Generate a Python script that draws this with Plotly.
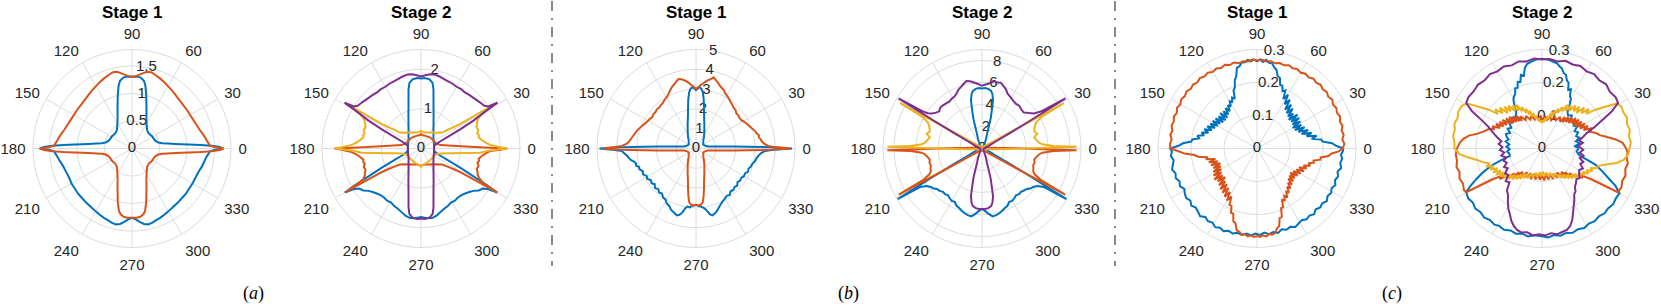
import plotly.graph_objects as go

W, H = 1661, 307
BLUE, ORANGE, YELLOW, PURPLE = "#0072BD", "#D95319", "#EDB120", "#7E2F8E"
GRID = "#dcdcdc"
TXT = "#262626"
FONT = "Liberation Sans, Arial, Helvetica, sans-serif"

ANG_TICKS = [0, 30, 60, 90, 120, 150, 180, 210, 240, 270, 300, 330]
TITLES = ["Stage 1", "Stage 2", "Stage 1", "Stage 2", "Stage 1", "Stage 2"]
PANEL_LABELS = ["(<i>a</i>)", "(<i>b</i>)", "(<i>c</i>)"]

# radial ticks per panel
A1_RTICKS = [0, 0.5, 1, 1.5]; A1_RLAB = ["0", "0.5", "1", "1.5"]; A1_RMAX = 1.8
A2_RTICKS = [0, 1, 2]; A2_RLAB = ["0", "1", "2"]; A2_RMAX = 2.5
B1_RTICKS = [0, 1, 2, 3, 4, 5]; B1_RLAB = ["0", "1", "2", "3", "4", "5"]; B1_RMAX = 5
B2_RTICKS = [0, 2, 4, 6, 8]; B2_RLAB = ["0", "2", "4", "6", "8"]; B2_RMAX = 9
C1_RTICKS = [0, 0.1, 0.2, 0.3]; C1_RLAB = ["0", "0.1", "0.2", "0.3"]; C1_RMAX = 0.3
C2_RTICKS = [0, 0.1, 0.2, 0.3]; C2_RLAB = ["0", "0.1", "0.2", "0.3"]; C2_RMAX = 0.3

# ---- (a) Stage 1 : (theta deg, r) ----
A1_BLUE = [(0,1.65),(1,1.6),(2,1.45),(3,1.25),(4,1.05),(5,0.9),(6,0.8),(7,0.72),(8,0.66),(10,0.56),(13,0.49),(18,0.45),(25,0.43),(30,0.43),(35,0.42),(42,0.41),(50,0.43),(55,0.47),(60,0.53),(65,0.62),(70,0.77),(75,1.0),(78,1.17),(80,1.25),(83,1.3),(86,1.31),(90,1.31),(94,1.31),(97,1.3),(100,1.25),(102,1.17),(105,1.0),(110,0.77),(115,0.62),(120,0.53),(125,0.47),(130,0.43),(138,0.41),(145,0.42),(150,0.43),(155,0.43),(162,0.45),(167,0.49),(170,0.56),(172,0.66),(173,0.72),(174,0.8),(175,0.9),(176,1.05),(177,1.25),(178,1.45),(179,1.6),(180,1.68),
           (181,1.5),(182,1.42),(185,1.38),(188,1.35),(191,1.32),(195,1.29),(200,1.27),(205,1.26),(210,1.27),(215,1.27),(220,1.28),(225,1.28),(230,1.29),(235,1.3),(240,1.32),(244,1.34),(248,1.36),(252,1.38),(255,1.40),(258,1.41),(261,1.39),(264,1.34),(267,1.29),(270,1.26),(273,1.29),(276,1.34),(279,1.39),(282,1.41),(285,1.40),(288,1.38),(292,1.36),(296,1.34),(300,1.32),(305,1.3),(310,1.29),(315,1.28),(320,1.28),(325,1.27),(330,1.27),(335,1.27),(340,1.28),(345,1.31),(349,1.33),(352,1.35),(355,1.38),(358,1.42),(359,1.5),(360,1.65)]
A1_ORANGE = [(0,1.67),(1,1.5),(2,1.42),(5,1.38),(8,1.35),(11,1.32),(15,1.28),(20,1.25),(25,1.23),(30,1.22),(35,1.22),(40,1.22),(45,1.23),(50,1.25),(55,1.28),(60,1.31),(64,1.34),(68,1.37),(72,1.40),(76,1.43),(79,1.42),(82,1.38),(85,1.34),(88,1.31),(90,1.30),(92,1.31),(95,1.34),(98,1.38),(101,1.42),(104,1.43),(108,1.40),(112,1.37),(116,1.34),(120,1.31),(125,1.28),(130,1.25),(135,1.23),(140,1.22),(145,1.22),(150,1.22),(155,1.23),(160,1.25),(165,1.28),(169,1.32),(172,1.35),(175,1.38),(178,1.42),(179,1.5),(180,1.67),
             (181,1.6),(182,1.45),(183,1.25),(184,1.05),(185,0.9),(186,0.8),(187,0.72),(188,0.66),(190,0.56),(193,0.49),(198,0.45),(205,0.43),(210,0.43),(215,0.42),(222,0.41),(230,0.43),(235,0.47),(240,0.53),(245,0.62),(250,0.77),(255,1.0),(258,1.15),(260,1.21),(263,1.25),(266,1.26),(270,1.26),(274,1.26),(277,1.25),(280,1.21),(282,1.15),(285,1.0),(290,0.77),(295,0.62),(300,0.53),(305,0.47),(310,0.43),(318,0.41),(325,0.42),(330,0.43),(335,0.43),(342,0.45),(347,0.49),(350,0.56),(352,0.66),(353,0.72),(354,0.8),(355,0.9),(356,1.05),(357,1.25),(358,1.45),(359,1.6),(360,1.67)]

# ---- (a) Stage 2 ----
A2_BLUE = [(0,0.33),(15,0.34),(30,0.37),(40,0.41),(50,0.49),(60,0.63),(65,0.75),(70,0.93),(73,1.08),(75,1.22),(77,1.4),(78,1.52),(80,1.68),(83,1.76),(87,1.78),(90,1.77),(93,1.78),(97,1.76),(100,1.68),(102,1.52),(103,1.4),(105,1.22),(107,1.08),(110,0.93),(115,0.75),(120,0.63),(130,0.49),(140,0.41),(150,0.37),(165,0.34),(180,0.33),(190,0.34),(195,0.38),(200,0.5),(203,0.7),(206,1.1),(208,1.5),(209,1.9),(210,2.22),(211,2.0),(213,1.86),(216,1.8),(219,1.7),(222,1.64),(225,1.6),(229,1.56),(233,1.55),(237,1.57),(241,1.56),(245,1.6),(249,1.63),(253,1.68),(257,1.74),(261,1.78),(265,1.77),(270,1.73),(275,1.77),(279,1.78),(283,1.74),(287,1.68),(291,1.63),(295,1.6),(299,1.56),(303,1.57),(307,1.55),(311,1.56),(315,1.6),(318,1.64),(321,1.7),(324,1.8),(327,1.86),(329,2.0),(330,2.22),(331,1.9),(332,1.5),(334,1.1),(337,0.7),(340,0.5),(345,0.38),(350,0.34),(360,0.33)]
A2_ORANGE = [(0,2.18),(1,1.6),(2,1.25),(4,0.9),(6,0.7),(10,0.5),(20,0.4),(35,0.37),(50,0.36),(70,0.34),(85,0.34),(90,0.37),(95,0.34),(110,0.34),(130,0.36),(145,0.37),(160,0.4),(170,0.5),(174,0.7),(176,0.9),(178,1.25),(179,1.6),(180,2.18),(181,2.0),(183,1.75),(185,1.65),(188,1.55),(191,1.48),(193,1.5),(195,1.47),(198,1.52),(201,1.5),(204,1.55),(206,1.58),(208,1.65),(209,1.8),(210,2.22),(211,1.2),(212,1.0),(214,0.83),(217,0.67),(225,0.56),(240,0.47),(255,0.42),(265,0.42),(270,0.45),(275,0.42),(285,0.42),(300,0.47),(315,0.56),(323,0.67),(326,0.83),(328,1.0),(329,1.2),(330,2.22),(331,1.8),(333,1.65),(335,1.58),(337,1.55),(340,1.5),(343,1.52),(346,1.47),(348,1.5),(350,1.48),(353,1.55),(356,1.65),(358,1.75),(359,2.0),(360,2.18)]
A2_YELLOW = [(0,2.18),(1,2.0),(3,1.75),(5,1.65),(8,1.55),(11,1.48),(13,1.5),(15,1.47),(18,1.52),(21,1.5),(24,1.55),(26,1.58),(28,1.65),(30,1.8),(31,2.25),(32,1.2),(33,1.0),(35,0.83),(37,0.67),(45,0.56),(60,0.47),(75,0.42),(85,0.42),(90,0.45),(95,0.42),(105,0.42),(120,0.47),(135,0.56),(143,0.67),(145,0.83),(147,1.0),(148,1.2),(149,2.25),(150,1.8),(152,1.65),(154,1.58),(156,1.55),(159,1.5),(162,1.52),(165,1.47),(167,1.5),(169,1.48),(172,1.55),(175,1.65),(177,1.75),(179,2.0),(180,2.18),(181,1.9),(182,1.7),(184,1.5),(186,1.1),(188,0.85),(190,0.7),(195,0.5),(200,0.42),(210,0.38),(225,0.37),(240,0.38),(255,0.4),(265,0.42),(270,0.45),(275,0.42),(285,0.4),(300,0.38),(315,0.37),(330,0.38),(340,0.42),(345,0.5),(350,0.7),(352,0.85),(354,1.1),(356,1.5),(358,1.7),(359,1.9),(360,2.18)]
A2_PURPLE = [(0,0.33),(10,0.34),(15,0.38),(20,0.5),(23,0.7),(26,1.1),(28,1.5),(30,1.9),(31,2.25),(32,2.0),(34,1.93),(37,1.9),(40,1.87),(44,1.84),(48,1.82),(52,1.80),(56,1.81),(60,1.80),(64,1.82),(68,1.83),(72,1.85),(76,1.88),(80,1.9),(83,1.89),(86,1.86),(90,1.82),(94,1.86),(97,1.89),(100,1.9),(104,1.88),(108,1.85),(112,1.83),(116,1.82),(120,1.80),(124,1.81),(128,1.80),(132,1.82),(136,1.84),(140,1.87),(143,1.9),(146,1.93),(148,2.0),(149,2.25),(150,1.9),(152,1.5),(154,1.1),(157,0.7),(160,0.5),(165,0.38),(170,0.34),(180,0.33),(195,0.34),(210,0.37),(220,0.41),(230,0.49),(240,0.63),(245,0.75),(250,0.93),(253,1.08),(255,1.22),(257,1.4),(258,1.52),(260,1.68),(263,1.76),(267,1.78),(270,1.77),(273,1.78),(277,1.76),(280,1.68),(282,1.52),(283,1.4),(285,1.22),(287,1.08),(290,0.93),(295,0.75),(300,0.63),(310,0.49),(320,0.41),(330,0.37),(345,0.34),(360,0.33)]

# ---- (b) Stage 1 ----
B1_BLUE = [(0,4.85),(1,3.8),(2,2.6),(3,1.9),(4,1.45),(6,1.0),(10,0.6),(20,0.45),(30,0.42),(40,0.48),(50,0.58),(55,0.7),(60,0.82),(65,1.0),(68,1.12),(71,1.3),(74,1.5),(77,1.8),(79,2.1),(81,2.5),(83,2.85),(85,3.05),(87,3.1),(89,3.0),(90,2.95),(91,3.0),(93,3.1),(95,3.05),(97,2.85),(99,2.5),(101,2.1),(103,1.8),(106,1.5),(109,1.3),(112,1.12),(115,1.0),(120,0.82),(125,0.7),(130,0.58),(140,0.48),(150,0.42),(160,0.45),(170,0.6),(174,1.0),(176,1.45),(177,1.9),(178,2.6),(179,3.8),(180,4.87),
           (181,4.1),(182,3.75),(184,3.62),(186,3.5),(188,3.42),(190,3.35),(192,3.2),(194,3.12),(196,3.15),(198,3.02),(200,3.05),(203,2.92),(206,2.98),(209,2.85),(212,2.9),(215,2.78),(218,2.85),(221,2.76),(224,2.88),(227,2.8),(230,2.9),(233,2.85),(236,2.98),(239,3.0),(242,3.15),(245,3.2),(248,3.35),(251,3.42),(254,3.52),(256,3.45),(258,3.3),(260,3.05),(262,2.95),(264,3.0),(266,2.9),(268,2.88),(270,2.84),(272,2.9),(274,2.92),(276,2.98),(278,3.05),(280,3.2),(282,3.4),(284,3.48),(286,3.42),(288,3.35),(291,3.2),(294,3.08),(297,2.98),(300,2.92),(303,2.85),(306,2.9),(309,2.78),(312,2.82),(315,2.75),(318,2.8),(321,2.7),(324,2.76),(327,2.72),(330,2.8),(333,2.78),(336,2.88),(339,2.84),(342,2.92),(345,2.95),(348,3.05),(351,3.1),(354,3.2),(356,3.3),(358,3.5),(359,3.9),(360,4.85)]
B1_ORANGE = [(0,4.77),(1,4.0),(2,3.65),(4,3.45),(6,3.35),(8,3.3),(10,3.22),(12,3.25),(14,3.15),(17,3.1),(20,3.0),(23,2.92),(26,2.85),(29,2.78),(32,2.7),(35,2.68),(38,2.72),(41,2.7),(44,2.78),(47,2.8),(50,2.86),(53,2.92),(56,3.0),(59,3.08),(62,3.15),(65,3.28),(68,3.35),(71,3.48),(74,3.6),(76,3.7),(78,3.58),(80,3.5),(82,3.4),(84,3.3),(86,3.2),(88,3.1),(90,3.0),(92,3.12),(94,3.2),(96,3.32),(98,3.42),(100,3.5),(102,3.58),(104,3.62),(106,3.55),(108,3.45),(111,3.35),(114,3.22),(117,3.08),(120,2.98),(123,2.92),(126,2.85),(129,2.82),(132,2.78),(135,2.8),(138,2.75),(141,2.76),(144,2.72),(147,2.76),(150,2.8),(153,2.85),(156,2.92),(159,3.0),(162,3.08),(165,3.15),(168,3.22),(171,3.3),(174,3.4),(176,3.5),(178,3.75),(179,4.1),(180,4.7),
             (181,3.9),(182,2.6),(183,1.9),(184,1.45),(186,1.0),(190,0.6),(200,0.45),(210,0.42),(220,0.48),(230,0.58),(235,0.7),(240,0.82),(245,1.0),(248,1.12),(251,1.3),(254,1.5),(257,1.8),(259,2.1),(261,2.45),(263,2.75),(265,2.85),(267,2.88),(270,2.84),(273,2.88),(275,2.85),(277,2.75),(279,2.45),(281,2.1),(283,1.8),(286,1.5),(289,1.3),(292,1.12),(295,1.0),(300,0.82),(305,0.7),(310,0.58),(320,0.48),(330,0.42),(340,0.45),(350,0.6),(354,1.0),(356,1.45),(357,1.9),(358,2.6),(359,3.8),(360,4.77)]

# ---- (b) Stage 2 ----
B2_BLUE = [(0,0.2),(10,0.18),(30,0.15),(50,0.2),(60,0.4),(65,0.7),(68,1.0),(71,1.4),(73,2.2),(74,2.9),(76,3.8),(77,4.45),(79,5.0),(81,5.3),(84,5.45),(87,5.5),(90,5.45),(93,5.5),(96,5.45),(99,5.3),(101,5.0),(103,4.45),(104,3.8),(106,2.9),(107,2.2),(109,1.4),(112,1.0),(115,0.7),(120,0.4),(130,0.2),(150,0.15),(170,0.18),(180,0.2),(190,0.3),(200,0.52),(204,0.82),(207,1.4),(209,2.9),(210,5.0),(211,8.95),(212,6.6),(214,6.1),(217,5.8),(219,5.75),(222,5.5),(225,5.45),(228,5.3),(231,5.35),(234,5.25),(237,5.4),(240,5.5),(243,5.45),(246,5.7),(249,5.8),(252,5.95),(255,6.1),(258,6.2),(261,6.25),(264,6.0),(267,5.7),(270,5.5),(273,5.7),(276,6.0),(279,6.25),(282,6.2),(285,6.1),(288,5.95),(291,5.8),(294,5.7),(297,5.45),(300,5.5),(303,5.4),(306,5.25),(309,5.35),(312,5.3),(315,5.4),(318,5.5),(321,5.75),(323,5.8),(326,6.1),(328,6.6),(329,8.95),(330,5.0),(331,2.9),(333,1.4),(336,0.82),(340,0.52),(350,0.3),(360,0.2)]
B2_ORANGE = [(0,3.8),(1,2.3),(2,1.6),(5,0.88),(10,0.5),(20,0.27),(40,0.2),(90,0.18),(140,0.2),(160,0.27),(170,0.5),(175,0.88),(178,1.6),(179,2.3),(180,3.8),(181,8.6),(182,6.5),(184,5.5),(186,5.2),(189,5.0),(192,4.85),(195,4.95),(198,4.9),(201,5.0),(204,5.1),(206,5.3),(208,6.0),(209,8.65),(210,3.5),(211,2.0),(213,1.2),(216,0.7),(222,0.4),(235,0.25),(270,0.2),(305,0.25),(318,0.4),(324,0.7),(327,1.2),(329,2.0),(330,3.5),(331,8.65),(332,6.0),(334,5.3),(336,5.1),(339,5.0),(342,4.9),(345,4.95),(348,4.85),(351,5.0),(354,5.2),(356,5.5),(358,6.5),(359,8.6),(360,3.8)]
B2_YELLOW = [(0,3.8),(1,8.6),(2,6.5),(4,5.5),(6,5.2),(9,5.0),(12,4.85),(15,5.2),(18,5.0),(21,5.1),(24,5.3),(26,5.5),(28,6.2),(29,8.5),(30,3.0),(31,1.8),(33,1.0),(37,0.55),(45,0.3),(60,0.2),(90,0.2),(120,0.2),(135,0.3),(143,0.55),(147,1.0),(149,1.8),(150,3.0),(151,8.5),(152,6.2),(154,5.5),(156,5.3),(159,5.1),(162,5.0),(165,5.2),(168,4.85),(171,5.0),(174,5.2),(176,5.5),(178,6.5),(179,8.6),(180,3.8),(181,2.3),(183,1.2),(186,0.7),(192,0.4),(210,0.25),(270,0.2),(330,0.25),(348,0.4),(354,0.7),(357,1.2),(359,2.3),(360,3.8)]
B2_PURPLE = [(0,0.2),(10,0.3),(20,0.52),(24,0.82),(27,1.4),(29,2.9),(30,5.0),(31,8.85),(32,6.4),(34,5.7),(37,5.35),(41,5.0),(45,5.05),(49,5.15),(53,5.1),(57,5.2),(61,5.35),(65,5.5),(68,5.8),(71,6.0),(74,6.23),(77,6.15),(80,6.2),(83,6.0),(86,5.85),(90,5.7),(94,5.9),(97,6.05),(100,6.2),(103,6.3),(106,6.1),(109,5.9),(112,5.75),(115,5.5),(118,5.35),(121,5.3),(125,5.2),(129,5.25),(133,5.3),(136,5.3),(139,5.15),(142,5.3),(145,5.55),(147,5.9),(148,6.4),(149,8.85),(150,5.0),(151,2.9),(153,1.4),(156,0.82),(160,0.52),(170,0.3),(180,0.2),(190,0.18),(210,0.15),(230,0.2),(240,0.4),(245,0.7),(248,1.0),(251,1.4),(253,2.2),(254,2.9),(256,3.8),(257,4.45),(259,5.0),(261,5.3),(264,5.45),(267,5.5),(270,5.5),(273,5.5),(276,5.45),(279,5.3),(281,5.0),(283,4.45),(284,3.8),(286,2.9),(287,2.2),(289,1.4),(292,1.0),(295,0.7),(300,0.4),(310,0.2),(330,0.15),(350,0.18),(360,0.2)]

# ---- (c) Stage 1 ----
C1_BLUE = [(0,0.262),(2,0.24),(4,0.228),(6,0.2),(8,0.196),(10,0.168),(12,0.185),(14,0.155),(16,0.172),(18,0.142),(20,0.165),(22,0.135),(24,0.158),(26,0.128),(28,0.152),(30,0.125),(32,0.155),(34,0.13),(36,0.158),(38,0.132),(40,0.16),(42,0.13),(44,0.152),(46,0.135),(48,0.162),(50,0.14),(52,0.168),(54,0.145),(56,0.178),(58,0.158),(60,0.188),(62,0.17),(64,0.196),(66,0.19),(68,0.205),(70,0.205),(72,0.225),(74,0.228),(76,0.245),(78,0.252),(80,0.262),(82,0.262),(84,0.27),(86,0.263),(88,0.27),(90,0.264),(92,0.27),(94,0.265),(96,0.27),(98,0.264),(100,0.265),(102,0.255),(104,0.252),(106,0.228),(108,0.218),(110,0.196),(112,0.19),(114,0.165),(116,0.172),(118,0.16),(120,0.165),(122,0.15),(124,0.158),(126,0.14),(128,0.155),(130,0.135),(132,0.152),(134,0.13),(136,0.155),(138,0.128),(140,0.152),(142,0.13),(144,0.155),(146,0.135),(148,0.158),(150,0.138),(152,0.16),(154,0.142),(156,0.165),(158,0.148),(160,0.17),(162,0.155),(164,0.175),(166,0.165),(168,0.185),(170,0.178),(172,0.198),(174,0.2),(176,0.225),(178,0.238),(180,0.263),
           (182,0.258),(185,0.262),(188,0.255),(191,0.26),(194,0.265),(197,0.258),(200,0.262),(203,0.255),(206,0.26),(209,0.252),(212,0.258),(215,0.262),(218,0.256),(221,0.264),(224,0.258),(227,0.262),(230,0.268),(233,0.26),(236,0.266),(239,0.262),(242,0.27),(245,0.265),(248,0.27),(251,0.264),(254,0.268),(257,0.262),(260,0.266),(263,0.26),(266,0.264),(269,0.258),(272,0.262),(275,0.256),(278,0.262),(281,0.258),(284,0.264),(287,0.256),(290,0.262),(293,0.258),(296,0.265),(299,0.26),(302,0.256),(305,0.262),(308,0.258),(311,0.264),(314,0.256),(317,0.262),(320,0.258),(323,0.265),(326,0.258),(329,0.262),(332,0.256),(335,0.262),(338,0.255),(341,0.26),(344,0.254),(347,0.262),(350,0.256),(353,0.26),(356,0.255),(358,0.26),(360,0.262)]
C1_ORANGE = [(0,0.26),(3,0.265),(6,0.26),(9,0.266),(12,0.262),(15,0.268),(18,0.264),(21,0.27),(24,0.265),(27,0.27),(30,0.266),(33,0.272),(36,0.267),(39,0.272),(42,0.268),(45,0.273),(48,0.268),(51,0.272),(54,0.266),(57,0.27),(60,0.265),(63,0.27),(66,0.266),(69,0.27),(72,0.265),(75,0.268),(78,0.264),(81,0.268),(84,0.265),(87,0.27),(90,0.267),(93,0.27),(96,0.265),(99,0.268),(102,0.264),(105,0.27),(108,0.266),(111,0.272),(114,0.267),(117,0.272),(120,0.268),(123,0.274),(126,0.27),(129,0.275),(132,0.27),(135,0.274),(138,0.27),(141,0.275),(144,0.27),(147,0.274),(150,0.268),(153,0.272),(156,0.266),(159,0.27),(162,0.265),(165,0.268),(168,0.262),(171,0.266),(174,0.26),(177,0.264),(180,0.262),
             (182,0.238),(184,0.22),(186,0.19),(188,0.18),(190,0.152),(192,0.158),(194,0.13),(196,0.152),(198,0.125),(200,0.148),(202,0.12),(204,0.145),(206,0.122),(208,0.15),(210,0.125),(212,0.155),(214,0.13),(216,0.16),(218,0.132),(220,0.155),(222,0.13),(224,0.16),(226,0.138),(228,0.166),(230,0.142),(232,0.17),(234,0.148),(236,0.176),(238,0.155),(240,0.182),(242,0.165),(244,0.19),(246,0.19),(248,0.21),(250,0.21),(252,0.232),(254,0.236),(256,0.255),(258,0.258),(260,0.266),(262,0.262),(264,0.268),(266,0.264),(268,0.268),(270,0.265),(272,0.268),(274,0.264),(276,0.268),(278,0.262),(280,0.265),(282,0.262),(284,0.25),(286,0.244),(288,0.222),(290,0.22),(292,0.195),(294,0.195),(296,0.172),(298,0.18),(300,0.165),(302,0.172),(304,0.158),(306,0.165),(308,0.148),(310,0.158),(312,0.14),(314,0.152),(316,0.132),(318,0.148),(320,0.128),(322,0.145),(324,0.125),(326,0.148),(328,0.13),(330,0.152),(332,0.135),(334,0.158),(336,0.14),(338,0.162),(340,0.15),(342,0.17),(344,0.162),(346,0.178),(348,0.175),(350,0.195),(352,0.195),(354,0.218),(356,0.225),(358,0.248),(360,0.26)]

# ---- (c) Stage 2 ----
C2_BLUE = [(0,0.112),(4,0.1),(8,0.115),(12,0.105),(16,0.118),(20,0.11),(24,0.12),(28,0.112),(32,0.125),(36,0.118),(40,0.13),(44,0.122),(48,0.135),(52,0.128),(55,0.135),(58,0.16),(60,0.175),(62,0.18),(64,0.2),(66,0.195),(68,0.215),(70,0.22),(72,0.235),(74,0.238),(76,0.25),(78,0.255),(80,0.262),(83,0.265),(86,0.27),(90,0.272),(94,0.27),(97,0.265),(100,0.26),(102,0.25),(104,0.227),(106,0.232),(108,0.212),(110,0.215),(112,0.198),(114,0.2),(116,0.185),(118,0.18),(120,0.173),(122,0.16),(124,0.14),(126,0.133),(130,0.125),(134,0.13),(138,0.118),(142,0.125),(146,0.112),(150,0.12),(154,0.108),(158,0.118),(161,0.114),(165,0.105),(169,0.112),(173,0.1),(177,0.108),(181,0.098),(185,0.106),(189,0.1),(193,0.1),(196,0.13),(199,0.165),(202,0.193),(205,0.22),(208,0.248),(210,0.265),(214,0.27),(218,0.266),(222,0.272),(226,0.268),(230,0.273),(234,0.268),(238,0.272),(241,0.268),(245,0.272),(249,0.266),(253,0.27),(257,0.265),(261,0.27),(265,0.264),(270,0.266),(274,0.27),(278,0.265),(282,0.27),(286,0.266),(290,0.272),(294,0.268),(298,0.273),(302,0.268),(306,0.272),(310,0.268),(314,0.273),(318,0.27),(322,0.274),(326,0.27),(330,0.271),(333,0.25),(336,0.22),(340,0.19),(343,0.17),(346,0.14),(349,0.118),(352,0.11),(356,0.105),(360,0.112)]
C2_ORANGE = [(0,0.255),(4,0.245),(7,0.225),(10,0.2),(13,0.18),(16,0.17),(20,0.15),(22,0.165),(24,0.138),(26,0.155),(28,0.13),(30,0.15),(32,0.125),(34,0.145),(36,0.12),(38,0.142),(40,0.118),(42,0.138),(44,0.112),(46,0.13),(48,0.108),(50,0.125),(52,0.102),(54,0.118),(56,0.098),(60,0.11),(64,0.095),(68,0.105),(72,0.09),(76,0.1),(80,0.088),(84,0.098),(88,0.086),(92,0.097),(96,0.088),(100,0.1),(104,0.09),(108,0.104),(112,0.094),(116,0.11),(120,0.1),(124,0.118),(126,0.104),(128,0.125),(130,0.108),(132,0.13),(134,0.112),(136,0.138),(138,0.118),(140,0.142),(142,0.122),(144,0.148),(146,0.128),(148,0.152),(150,0.135),(152,0.158),(154,0.142),(156,0.165),(158,0.155),(160,0.172),(164,0.185),(167,0.2),(170,0.225),(173,0.24),(176,0.25),(180,0.258),(184,0.262),(188,0.26),(192,0.265),(196,0.26),(200,0.266),(204,0.262),(208,0.268),(210,0.265),(212,0.176),(214,0.15),(216,0.158),(218,0.13),(220,0.14),(222,0.112),(224,0.125),(226,0.1),(228,0.115),(230,0.092),(234,0.105),(238,0.085),(242,0.1),(246,0.082),(250,0.098),(254,0.08),(258,0.096),(262,0.08),(266,0.095),(270,0.082),(274,0.097),(278,0.08),(282,0.096),(286,0.082),(290,0.098),(294,0.084),(298,0.1),(302,0.086),(306,0.104),(310,0.092),(312,0.112),(314,0.1),(316,0.122),(318,0.112),(320,0.135),(322,0.128),(324,0.15),(326,0.148),(328,0.176),(330,0.265),(334,0.268),(338,0.262),(342,0.266),(346,0.26),(350,0.264),(354,0.258),(357,0.26),(360,0.255)]
C2_YELLOW = [(0,0.265),(4,0.27),(8,0.266),(12,0.272),(16,0.268),(20,0.274),(24,0.27),(28,0.272),(31,0.265),(33,0.235),(36,0.2),(38,0.17),(40,0.185),(42,0.16),(44,0.178),(46,0.15),(48,0.17),(50,0.148),(52,0.165),(54,0.14),(56,0.158),(58,0.135),(60,0.152),(62,0.128),(64,0.14),(66,0.118),(68,0.13),(70,0.11),(72,0.12),(74,0.1),(76,0.11),(78,0.092),(80,0.1),(82,0.085),(84,0.092),(86,0.08),(88,0.085),(90,0.078),(92,0.086),(94,0.08),(96,0.092),(98,0.085),(100,0.1),(102,0.092),(104,0.11),(106,0.1),(108,0.12),(110,0.11),(112,0.13),(114,0.118),(116,0.14),(118,0.128),(120,0.152),(122,0.135),(124,0.158),(126,0.14),(128,0.165),(130,0.148),(132,0.17),(134,0.15),(136,0.178),(138,0.16),(140,0.185),(142,0.17),(144,0.2),(147,0.235),(149,0.265),(152,0.275),(156,0.277),(160,0.272),(164,0.276),(168,0.27),(172,0.272),(176,0.266),(180,0.265),(184,0.25),(187,0.225),(190,0.2),(193,0.184),(196,0.165),(198,0.178),(200,0.155),(202,0.17),(204,0.148),(206,0.165),(208,0.142),(210,0.16),(212,0.138),(214,0.152),(216,0.13),(218,0.145),(220,0.122),(222,0.138),(224,0.115),(226,0.13),(228,0.108),(230,0.122),(232,0.1),(234,0.114),(236,0.094),(238,0.106),(240,0.088),(244,0.1),(248,0.082),(252,0.094),(256,0.076),(260,0.088),(264,0.072),(268,0.084),(272,0.07),(276,0.084),(280,0.074),(284,0.088),(288,0.078),(292,0.094),(296,0.084),(300,0.1),(302,0.092),(304,0.108),(306,0.098),(308,0.115),(310,0.104),(312,0.122),(314,0.11),(316,0.13),(318,0.118),(320,0.138),(322,0.126),(324,0.146),(326,0.134),(328,0.152),(330,0.142),(332,0.16),(334,0.15),(336,0.168),(338,0.158),(340,0.175),(343,0.18),(346,0.2),(349,0.23),(352,0.25),(356,0.262),(360,0.265)]
C2_PURPLE = [(0,0.12),(4,0.11),(8,0.125),(12,0.115),(16,0.13),(19,0.143),(22,0.17),(25,0.2),(28,0.24),(31,0.269),(35,0.272),(40,0.268),(45,0.275),(50,0.27),(55,0.275),(60,0.27),(65,0.276),(70,0.271),(75,0.275),(80,0.268),(85,0.272),(90,0.27),(95,0.274),(100,0.268),(105,0.273),(110,0.268),(115,0.274),(120,0.27),(125,0.275),(130,0.27),(135,0.274),(140,0.27),(145,0.272),(149,0.268),(152,0.24),(155,0.2),(158,0.175),(162,0.156),(166,0.14),(170,0.125),(174,0.132),(178,0.12),(182,0.128),(186,0.115),(190,0.125),(194,0.112),(198,0.122),(202,0.115),(206,0.128),(210,0.12),(214,0.135),(218,0.13),(222,0.148),(226,0.142),(230,0.165),(234,0.175),(238,0.195),(241,0.21),(244,0.222),(247,0.238),(250,0.25),(253,0.258),(256,0.262),(260,0.258),(264,0.265),(268,0.26),(272,0.264),(276,0.258),(280,0.264),(284,0.26),(287,0.258),(290,0.25),(293,0.235),(296,0.215),(299,0.198),(302,0.185),(305,0.17),(308,0.165),(311,0.152),(314,0.148),(318,0.14),(322,0.145),(326,0.136),(330,0.13),(334,0.138),(338,0.125),(342,0.132),(346,0.118),(350,0.128),(354,0.115),(358,0.125),(360,0.12)]

# ---------------- layout geometry (pixels) ----------------
CX = [132, 421, 696, 982, 1257, 1542]
CY = 148.5
RPX = 99

panels = [
    (A1_RMAX, A1_RTICKS, A1_RLAB, [(A1_BLUE, BLUE), (A1_ORANGE, ORANGE)]),
    (A2_RMAX, A2_RTICKS, A2_RLAB, [(A2_BLUE, BLUE), (A2_ORANGE, ORANGE), (A2_YELLOW, YELLOW), (A2_PURPLE, PURPLE)]),
    (B1_RMAX, B1_RTICKS, B1_RLAB, [(B1_BLUE, BLUE), (B1_ORANGE, ORANGE)]),
    (B2_RMAX, B2_RTICKS, B2_RLAB, [(B2_BLUE, BLUE), (B2_ORANGE, ORANGE), (B2_YELLOW, YELLOW), (B2_PURPLE, PURPLE)]),
    (C1_RMAX, C1_RTICKS, C1_RLAB, [(C1_BLUE, BLUE), (C1_ORANGE, ORANGE)]),
    (C2_RMAX, C2_RTICKS, C2_RLAB, [(C2_BLUE, BLUE), (C2_ORANGE, ORANGE), (C2_YELLOW, YELLOW), (C2_PURPLE, PURPLE)]),
]

fig = go.Figure()
layout_polars = {}
annotations = []
for i, (rmax, rticks, rlab, curves) in enumerate(panels):
    sub = "polar" if i == 0 else f"polar{i+1}"
    fig.add_trace(go.Scatterpolar(r=rticks, theta=[80] * len(rticks), mode="text", text=rlab,
                                  textposition="middle center",
                                  textfont=dict(size=15, color=TXT, family=FONT),
                                  subplot=sub, hoverinfo="skip", showlegend=False))
    for data, color in curves:
        th = [p[0] for p in data]
        rr = [p[1] for p in data]
        fig.add_trace(go.Scatterpolar(r=rr, theta=th, mode="lines",
                                      line=dict(color=color, width=2),
                                      subplot=sub, hoverinfo="skip", showlegend=False))
    cx = CX[i]
    layout_polars[sub] = dict(
        domain=dict(x=[(cx - RPX) / W, (cx + RPX) / W],
                    y=[(H - CY - RPX) / H, (H - CY + RPX) / H]),
        bgcolor="white",
        radialaxis=dict(range=[0, rmax], tickvals=rticks, showticklabels=False,
                        showline=False, ticks="", gridcolor=GRID, gridwidth=1,
                        layer="below traces"),
        angularaxis=dict(tickvals=ANG_TICKS, ticktext=[str(a) for a in ANG_TICKS],
                         direction="counterclockwise", rotation=0,
                         gridcolor=GRID, gridwidth=1, showline=True, linecolor=GRID,
                         linewidth=1, ticks="outside", ticklen=4,
                         tickcolor="rgba(0,0,0,0)", layer="below traces",
                         tickfont=dict(size=15, color=TXT, family=FONT)),
    )
    annotations.append(dict(x=cx / W, y=(H - 12) / H, xref="paper", yref="paper",
                            text=f"<b>{TITLES[i]}</b>", showarrow=False,
                            xanchor="center", yanchor="middle",
                            font=dict(size=17, color="black", family=FONT)))

LABEL_X = [254, 848, 1392]
for lx, lt in zip(LABEL_X, PANEL_LABELS):
    annotations.append(dict(x=lx / W, y=(H - 293) / H, xref="paper", yref="paper",
                            text=lt, showarrow=False, xanchor="center", yanchor="middle",
                            font=dict(size=18, color="black", family="Liberation Serif, DejaVu Serif, serif")))

shapes = []
for sx in [552, 1115]:
    shapes.append(dict(type="line", xref="paper", yref="paper",
                       x0=sx / W, x1=sx / W, y0=1 - 1 / H, y1=(H - 266) / H,
                       line=dict(color="#8a8a8a", width=2, dash="10px,7px,2px,7px")))

fig.update_layout(width=W, height=H, margin=dict(l=0, r=0, t=0, b=0),
                  paper_bgcolor="white", plot_bgcolor="white", showlegend=False,
                  annotations=annotations, shapes=shapes, **layout_polars)
fig.write_html("out.html", config={"displayModeBar": False},
               post_script="document.body.style.margin='0';document.body.style.overflow='hidden';")
